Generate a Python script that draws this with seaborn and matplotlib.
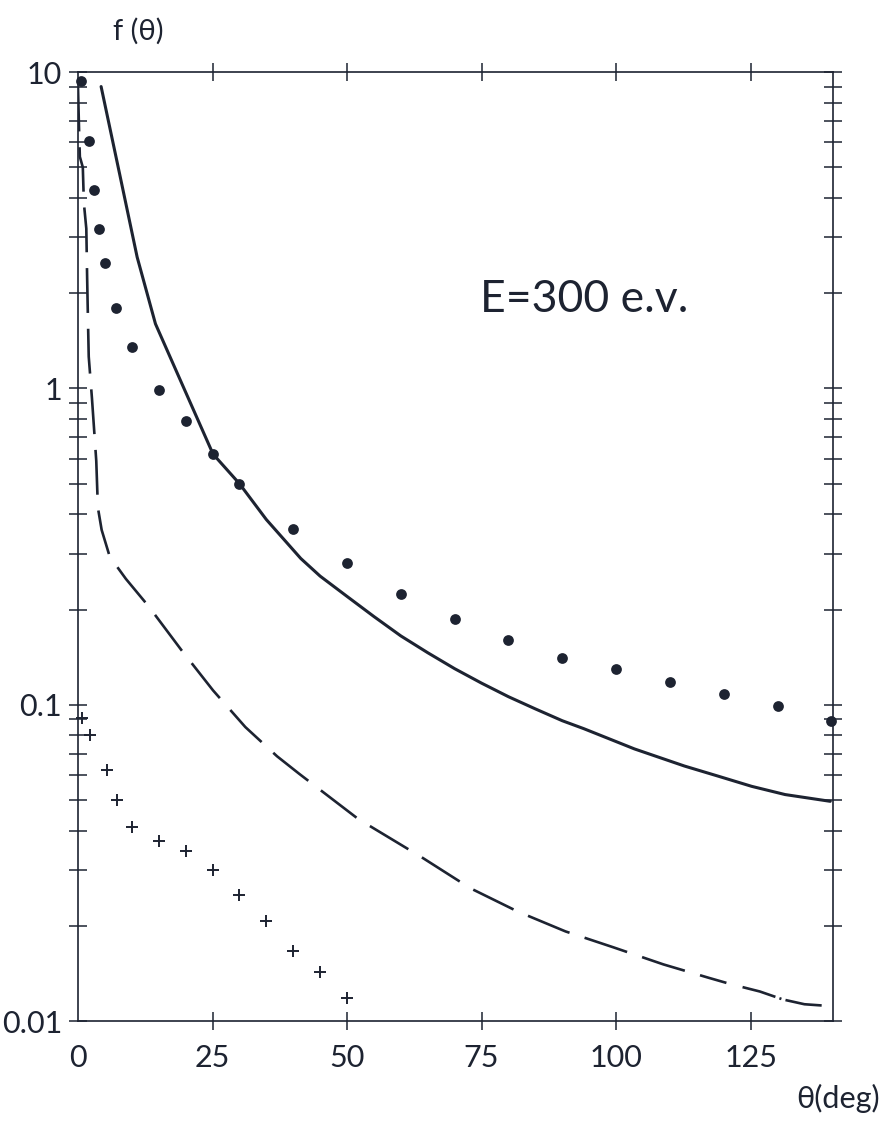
import numpy as np
import matplotlib
matplotlib.use("Agg")
import matplotlib.pyplot as plt
import seaborn as sns
from matplotlib.ticker import FixedLocator, LogLocator, NullFormatter

# ---- data (theta in deg, f(theta)) ----
theta_solid = [4.3, 7.7, 11.0, 14.4, 19.7, 25.1, 30.0, 35.0, 41.4, 45, 50, 55, 60, 65,
               70, 75, 80, 85, 90, 94, 103.4, 112.7, 118.9, 125.2, 131.4, 139.8]
f_solid = [9.0, 4.8, 2.6, 1.6, 1.0, 0.62, 0.50, 0.385, 0.29, 0.255, 0.22, 0.19, 0.165, 0.146,
           0.13, 0.117, 0.106, 0.097, 0.089, 0.084, 0.0725, 0.064, 0.0595, 0.0552, 0.052, 0.0495]

theta_dash = [0.0, 0.2, 0.35, 0.9, 1.1, 1.55, 1.7, 1.8, 2.0, 2.6, 3.4, 3.7, 4.4, 5.9, 8.9,
              13.1, 19.2, 25.1, 31.1, 37.0, 41.1, 52.1, 63.8, 72.9, 81.7, 90.6, 99.5,
              108.8, 117.2, 120.5]
f_dash = [9.0, 6.6, 5.4, 5.0, 3.85, 3.2, 2.26, 1.84, 1.26, 0.93, 0.59, 0.42, 0.357, 0.294, 0.25,
          0.205, 0.149, 0.111, 0.085, 0.0687, 0.0605, 0.0435, 0.033, 0.0263, 0.0222, 0.0192, 0.0171,
          0.0151, 0.0137, 0.0132]

# end of the dashed curve is drawn dash-dot in the original
theta_tail = [123.5, 126.7, 131.0, 135.0, 138.2]
f_tail = [0.0128, 0.0124, 0.0117, 0.0113, 0.0112]

theta_dots = [0.5, 2, 3, 4, 5, 7, 10, 15, 20, 25, 30, 40, 50, 60, 70, 80, 90,
              100, 110, 120, 130, 140]
f_dots = [9.4, 6.05, 4.24, 3.2, 2.5, 1.8, 1.35, 0.99, 0.79, 0.62, 0.50, 0.36, 0.28, 0.224,
          0.186, 0.16, 0.141, 0.13, 0.118, 0.108, 0.099, 0.089]

theta_plus = [0.7, 2.3, 5.4, 7.2, 10, 15, 20, 25, 30, 35, 40, 45, 50]
f_plus = [0.091, 0.080, 0.062, 0.050, 0.041, 0.037, 0.0345, 0.030, 0.025, 0.0207,
          0.0166, 0.0143, 0.0118]

x_ticks = [0, 25, 50, 75, 100, 125]
x_ticklabels = ["0", "25", "50", "75", "100", "125"]
y_ticks = [0.01, 0.1, 1, 10]
y_ticklabels = ["0.01", "0.1", "1", "10"]

ink = "#1d2331"

sns.set_style("ticks")
plt.rcParams['font.family'] = ['Lato', 'DejaVu Sans']

fig = plt.figure(figsize=(8.82, 11.23), dpi=100)
ax = fig.add_axes([0.0884, 0.0908, 0.856, 0.845])

# curves
sns.lineplot(x=theta_solid, y=f_solid, ax=ax, color=ink, lw=2.2, sort=False, estimator=None)
sns.lineplot(x=theta_dash, y=f_dash, ax=ax, color=ink, lw=1.9, sort=False, estimator=None)
ax.lines[-1].set_dashes((17, 6))
sns.lineplot(x=theta_tail, y=f_tail, ax=ax, color=ink, lw=1.9, sort=False, estimator=None)
ax.lines[-1].set_dashes((13, 1.6, 0.8, 1.6, 16, 0))

# measured points
sns.scatterplot(x=theta_dots, y=f_dots, ax=ax, marker='o', s=60, color=ink,
                edgecolor=ink, linewidth=0, clip_on=False, zorder=5)
sns.scatterplot(x=theta_plus, y=f_plus, ax=ax, marker='+', s=80, color=ink,
                linewidth=1.4, clip_on=False, zorder=5)

ax.set_yscale('log')
ax.set_xlim(0, 140.3)
ax.set_ylim(0.01, 10)

ax.set_xticks(x_ticks)
ax.set_xticklabels(x_ticklabels)
ax.yaxis.set_major_locator(FixedLocator(y_ticks))
ax.set_yticklabels(y_ticklabels)
ax.yaxis.set_minor_locator(LogLocator(base=10, subs=np.arange(2, 10)))
ax.yaxis.set_minor_formatter(NullFormatter())

ax.tick_params(axis='both', which='both', direction='inout', top=True, right=True,
               length=13, width=1.1, color=ink, labelcolor=ink)
ax.tick_params(axis='x', labelsize=22, pad=10)
ax.tick_params(axis='y', labelsize=22, pad=5)
# no tick mark drawn at the 0 corner
t0 = ax.xaxis.get_major_ticks()[0]
t0.tick1line.set_visible(False)
t0.tick2line.set_visible(False)

for side in ['left', 'right', 'top', 'bottom']:
    ax.spines[side].set_visible(True)
    ax.spines[side].set_linewidth(1.2)
    ax.spines[side].set_color(ink)

ax.set_xlabel("")
ax.set_ylabel("")

fig.text(138 / 882, 1 - 31 / 1123, "f (θ)", ha='center', va='center', fontsize=21, color=ink)
fig.text(584 / 882, 1 - 300 / 1123, "E=300 e.v.", ha='center', va='center', fontsize=32,
         color=ink)
fig.text(880 / 882, 1 - 1098 / 1123, "θ(deg)", ha='right', va='center', fontsize=22, color=ink)

fig.savefig("out.png", dpi=100, facecolor='white')
